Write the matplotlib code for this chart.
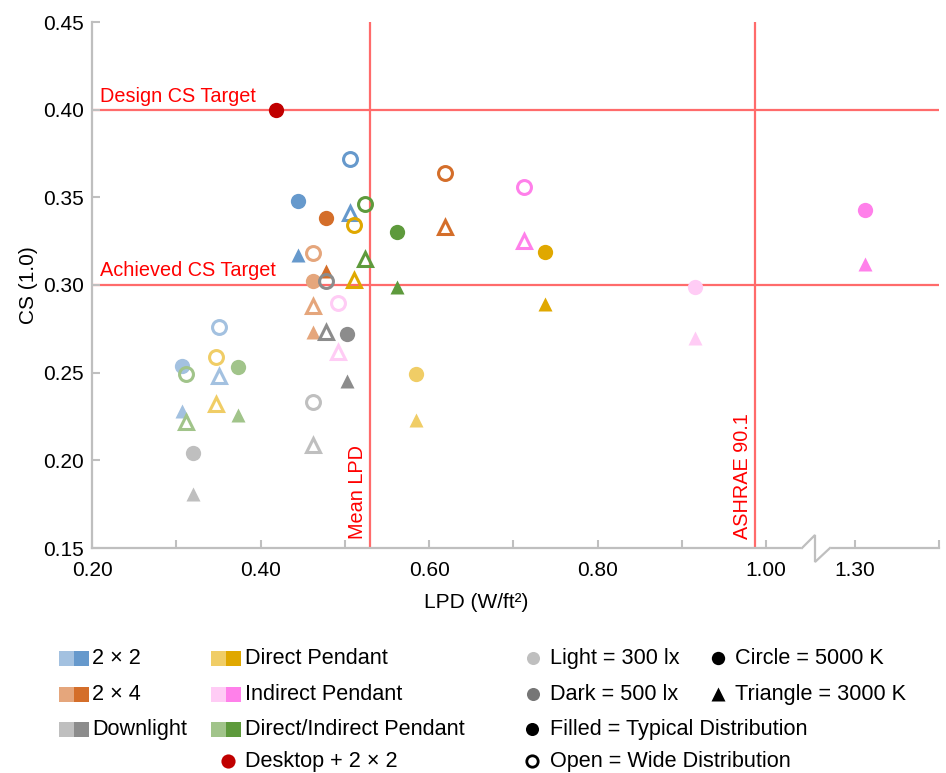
import numpy as np
import matplotlib
matplotlib.use("Agg")
import matplotlib.pyplot as plt
from matplotlib.patches import Rectangle

plt.rcParams['font.family'] = ['Liberation Sans', 'DejaVu Sans']

# ---------------- data ----------------
fixtures = ['2 × 2', '2 × 4', 'Downlight', 'Direct Pendant', 'Indirect Pendant',
            'Direct/Indirect Pendant']
light_colors = ['#A3C1E0', '#E5A67C', '#BFBFBF', '#F0CD66', '#FFCCF5', '#A1C48A']
dark_colors = ['#6699CC', '#D46E2A', '#8C8C8C', '#E0A800', '#FF80EA', '#5E9A3C']

# LPD (W/ft2) per fixture
lpd_300_typ = [0.307, 0.462, 0.320, 0.584, 0.915, 0.373]
lpd_300_wide = [0.351, 0.462, 0.462, 0.347, 0.492, 0.312]
lpd_500_typ = [0.445, 0.478, 0.503, 0.738, 1.312, 0.562]
lpd_500_wide = [0.506, 0.619, 0.478, 0.511, 0.713, 0.524]

# CS per fixture
cs_300_typ_5000 = [0.254, 0.302, 0.204, 0.249, 0.299, 0.253]
cs_300_typ_3000 = [0.228, 0.273, 0.181, 0.223, 0.270, 0.226]
cs_300_wide_5000 = [0.276, 0.318, 0.233, 0.259, 0.290, 0.249]
cs_300_wide_3000 = [0.248, 0.288, 0.209, 0.232, 0.262, 0.222]
cs_500_typ_5000 = [0.348, 0.338, 0.272, 0.319, 0.343, 0.330]
cs_500_typ_3000 = [0.317, 0.308, 0.245, 0.289, 0.312, 0.299]
cs_500_wide_5000 = [0.372, 0.364, 0.302, 0.334, 0.356, 0.346]
cs_500_wide_3000 = [0.341, 0.333, 0.273, 0.303, 0.325, 0.315]

desktop_lpd = [0.418]
desktop_cs = [0.400]

design_cs_target = 0.40
achieved_cs_target = 0.30
mean_lpd = 0.530
ashrae_lpd = 0.987

y_ticks = [0.15, 0.20, 0.25, 0.30, 0.35, 0.40, 0.45]
x_major = [0.2, 0.4, 0.6, 0.8, 1.0, 1.3]
x_major_labels = ['0.20', '0.40', '0.60', '0.80', '1.00', '1.30']
x_minor = [0.3, 0.5, 0.7, 0.9, 1.4]

legend_fixture_rows = [('2 × 2', 0), ('2 × 4', 1), ('Downlight', 2)]
legend_fixture_rows2 = [('Direct Pendant', 3), ('Indirect Pendant', 4),
                        ('Direct/Indirect Pendant', 5)]

# ---------------- broken x scale ----------------
def fwd(x):
    x = np.asarray(x, float)
    return np.where(x <= 1.0, x,
                    np.where(x < 1.3, 1.0 + (x - 1.0) * 0.35, x - 0.195))

def inv(y):
    y = np.asarray(y, float)
    return np.where(y <= 1.0, y,
                    np.where(y < 1.105, 1.0 + (y - 1.0) / 0.35, y + 0.195))

W, H = 946, 773
fig = plt.figure(figsize=(W / 100, H / 100), dpi=100)
L, R, T, B = 92, 939, 22, 548
ax = fig.add_axes([L / W, 1 - B / H, (R - L) / W, (B - T) / H])
ax.set_xscale('function', functions=(fwd, inv))
ax.set_xlim(0.2, 1.4)
ax.set_ylim(0.15, 0.45)

ref_color = '#FF6B6B'
ax.axhline(design_cs_target, color=ref_color, lw=1.6, zorder=1)
ax.axhline(achieved_cs_target, color=ref_color, lw=1.6, zorder=1)
ax.axvline(mean_lpd, color=ref_color, lw=1.6, zorder=1)
ax.axvline(ashrae_lpd, color=ref_color, lw=1.6, zorder=1)

txt_kw = dict(color='#FF0000', fontsize=14.3)
ax.annotate('Design CS Target', xy=(8 / (R - L), design_cs_target),
            xycoords=('axes fraction', 'data'), xytext=(0, 8),
            textcoords='offset pixels', ha='left', va='baseline', **txt_kw)
ax.annotate('Achieved CS Target', xy=(8 / (R - L), achieved_cs_target),
            xycoords=('axes fraction', 'data'), xytext=(0, 9),
            textcoords='offset pixels', ha='left', va='baseline', **txt_kw)
ax.annotate('Mean LPD', xy=(mean_lpd, 0), xycoords=('data', 'axes fraction'),
            xytext=(-3, 9), textcoords='offset pixels', rotation=90,
            ha='right', va='bottom', **txt_kw)
ax.annotate('ASHRAE 90.1', xy=(ashrae_lpd, 0), xycoords=('data', 'axes fraction'),
            xytext=(-3, 9), textcoords='offset pixels', rotation=90,
            ha='right', va='bottom', **txt_kw)

ms_c, ms_t = 11.0, 10.4
ms_oc, ms_ot, mew = 10.0, 9.4, 2.2

def draw(lpd, cs5, cs3, colors_, filled):
    for i in range(len(lpd)):
        c = colors_[i]
        if filled:
            ax.plot(lpd[i], cs5[i], 'o', ms=ms_c, color=c, mec='none', zorder=3)
            ax.plot(lpd[i], cs3[i], '^', ms=ms_t, color=c, mec='none', zorder=3)
        else:
            ax.plot(lpd[i], cs5[i], 'o', ms=ms_oc, mfc='none', mec=c, mew=mew, zorder=4)
            ax.plot(lpd[i], cs3[i], '^', ms=ms_ot, mfc='none', mec=c, mew=mew, zorder=4)

draw(lpd_300_typ, cs_300_typ_5000, cs_300_typ_3000, light_colors, True)
draw(lpd_500_typ, cs_500_typ_5000, cs_500_typ_3000, dark_colors, True)
draw(lpd_300_wide, cs_300_wide_5000, cs_300_wide_3000, light_colors, False)
draw(lpd_500_wide, cs_500_wide_5000, cs_500_wide_3000, dark_colors, False)
ax.plot(desktop_lpd, desktop_cs, 'o', ms=ms_c, color='#C00000', mec='none', zorder=5)

# axes styling
axis_gray = '#BFBFBF'
for s in ['top', 'right']:
    ax.spines[s].set_visible(False)
for s in ['left', 'bottom']:
    ax.spines[s].set_color(axis_gray)
    ax.spines[s].set_linewidth(1.6)
ax.set_yticks(y_ticks)
ax.set_yticklabels([f'{v:.2f}' for v in y_ticks])
ax.set_xticks(x_major)
ax.set_xticklabels(x_major_labels)
ax.set_xticks(x_minor, minor=True)
ax.tick_params(axis='both', which='both', direction='in', length=6, width=1.5,
               color=axis_gray, labelsize=15, labelcolor='#000000')
ax.tick_params(axis='x', which='both', pad=9)
ax.tick_params(axis='y', pad=6)
ax.set_xlabel('LPD (W/ft²)', fontsize=15)
ax.set_ylabel('CS (1.0)', fontsize=15)
ax.xaxis.set_label_coords((476 - L) / (R - L), -(602 - B) / (B - T))
ax.yaxis.set_label_coords(-(92 - 28) / (R - L), 0.5)
ax.xaxis.label.set_va('center')
ax.yaxis.label.set_va('center')

# ---------------- overlay in pixel coords: axis break & legend ----------------
lax = fig.add_axes([0, 0, 1, 1])
lax.set_xlim(0, W)
lax.set_ylim(H, 0)
lax.axis('off')
lax.patch.set_visible(False)

# axis break
lax.plot([801, 831], [B, B], color='white', lw=4, solid_capstyle='butt')
lax.plot([802, 815, 815, 830], [B, 535, 562, B], color=axis_gray, lw=1.6,
         solid_joinstyle='miter')

leg_fs = 15.6
rows_y = [658, 694, 729, 761]
sq = 15

def swatch(x0, y, idx):
    lax.add_patch(Rectangle((x0, y - sq / 2), sq, sq, color=light_colors[idx], lw=0))
    lax.add_patch(Rectangle((x0 + sq, y - sq / 2), sq, sq, color=dark_colors[idx], lw=0))

def ltext(x, y, s):
    lax.text(x, y + 6, s, fontsize=leg_fs, ha='left', va='baseline', color='black')

for r, (lab, idx) in enumerate(legend_fixture_rows):
    swatch(59, rows_y[r], idx)
    ltext(92, rows_y[r], lab)
for r, (lab, idx) in enumerate(legend_fixture_rows2):
    swatch(211, rows_y[r], idx)
    ltext(245, rows_y[r], lab)
lax.plot([227.5], [rows_y[3]], 'o', ms=10.2, color='#C00000', mec='none')
ltext(245, rows_y[3], 'Desktop + 2 × 2')

lax.plot([533], [rows_y[0]], 'o', ms=9.4, color='#BFBFBF', mec='none')
ltext(550, rows_y[0], 'Light = 300 lx')
lax.plot([533], [rows_y[1]], 'o', ms=9.4, color='#767676', mec='none')
ltext(550, rows_y[1], 'Dark = 500 lx')
lax.plot([532], [rows_y[2]], 'o', ms=9.4, color='black', mec='none')
ltext(550, rows_y[2], 'Filled = Typical Distribution')
lax.plot([532], [rows_y[3]], 'o', ms=8.2, mfc='none', mec='black', mew=2.0)
ltext(550, rows_y[3], 'Open = Wide Distribution')
lax.plot([718], [rows_y[0]], 'o', ms=9.6, color='black', mec='none')
ltext(735, rows_y[0], 'Circle = 5000 K')
lax.plot([718], [rows_y[1]], '^', ms=10.0, color='black', mec='none')
ltext(735, rows_y[1], 'Triangle = 3000 K')

fig.savefig('out.png', dpi=100)
